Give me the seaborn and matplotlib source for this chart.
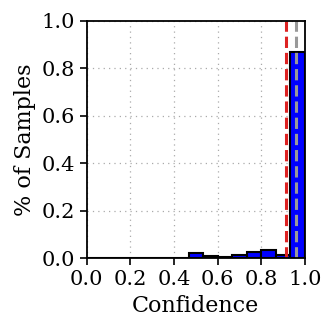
import numpy as np
import pandas as pd
import matplotlib
matplotlib.use("Agg")
import matplotlib.pyplot as plt
import seaborn as sns

# 15 equal-width confidence bins between 0 and 1
n_bins = 15
bin_edges = np.linspace(0, 1, n_bins + 1)
bin_centers = (bin_edges[:-1] + bin_edges[1:]) / 2
sample_frac = [0, 0, 0, 0, 0, 0, 0, 0.023, 0.012, 0.006, 0.016, 0.025, 0.037, 0.013, 0.868]

avg_confidence = 0.915
accuracy = 0.957

df = pd.DataFrame({"conf": bin_centers, "frac": sample_frac})

sns.set_style("ticks")
plt.rcParams["font.family"] = ["DejaVu Serif"]
plt.rcParams["text.color"] = "black"
plt.rcParams["axes.labelcolor"] = "black"
plt.rcParams["xtick.color"] = "black"
plt.rcParams["ytick.color"] = "black"
plt.rcParams["axes.edgecolor"] = "black"

fig = plt.figure(figsize=(3.33, 3.33), dpi=100)
ax = fig.add_axes([0.26, 0.224, 0.656, 0.714])

sns.histplot(data=df, x="conf", weights="frac", bins=n_bins, binrange=(0, 1),
             color="blue", edgecolor="black", linewidth=1.5, alpha=1, ax=ax)

ax.axvline(avg_confidence, color="#dd2222", linestyle="--", linewidth=2.2)
ax.axvline(accuracy, color="#999999", linestyle="--", linewidth=2.2)

ax.set_xlim(0, 1)
ax.set_ylim(0, 1)
ax.set_xticks(np.arange(0, 1.01, 0.2))
ax.set_yticks(np.arange(0, 1.01, 0.2))
ax.grid(True, linestyle=(0, (1, 3.3)), color="#aaaaaa", linewidth=0.9)
ax.set_axisbelow(True)
for s in ax.spines.values():
    s.set_linewidth(1.3)
    s.set_visible(True)
ax.tick_params(labelsize=15, width=1.2, length=5)
ax.set_xlabel("Confidence", fontsize=16)
ax.set_ylabel("% of Samples", fontsize=16)

fig.savefig("out.png", dpi=100)
